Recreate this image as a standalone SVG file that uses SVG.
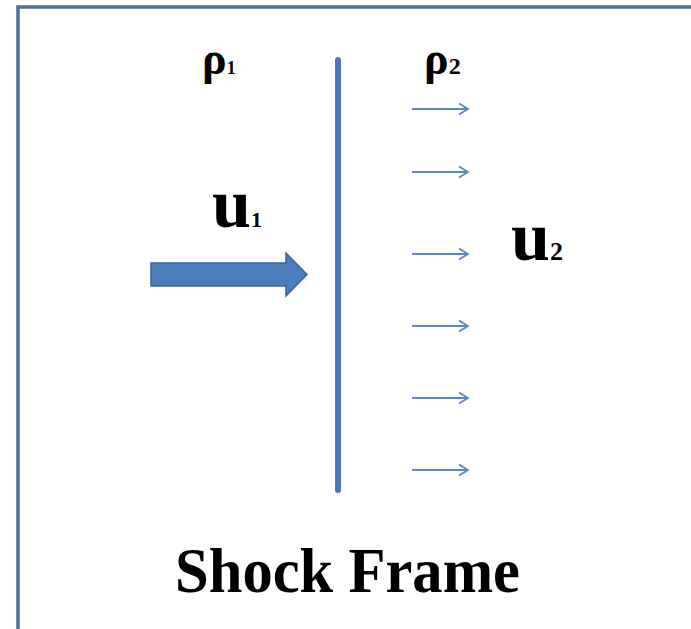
<svg xmlns="http://www.w3.org/2000/svg" width="691" height="629" viewBox="0 0 691 629">
<style>
.t{font-family:"Liberation Serif","Times New Roman",serif;font-weight:bold;fill:#000}
.sm{stroke:#5a88c4;stroke-width:1.8;fill:none}
</style>
<defs>
<marker id="oa" markerWidth="14" markerHeight="14" refX="10" refY="7" orient="auto" markerUnits="userSpaceOnUse">
<path d="M1,1.5 L10,7 L1,12.5" fill="none" stroke="#5a88c4" stroke-width="1.8"/>
</marker>
</defs>
<rect width="691" height="629" fill="#fff"/>
<g id="frame">
<path d="M18,629 L18,7 L691,7" fill="none" stroke="#4e6f9e" stroke-width="3.5"/>
</g>
<g id="shock">
<line x1="338" y1="60" x2="338" y2="490" stroke="#4a76b5" stroke-width="6" stroke-linecap="round"/>
</g>
<g id="labels">
<text class="t" x="202" y="74" font-size="46">ρ<tspan font-size="18">1</tspan></text>
<text class="t" x="424" y="74" font-size="46">ρ<tspan font-size="24">2</tspan></text>
<text class="t" x="212" y="227" font-size="70">u<tspan font-size="22">1</tspan></text>
<text class="t" x="511" y="260" font-size="70">u<tspan font-size="26">2</tspan></text>
<text class="t" x="175" y="592" font-size="64" textLength="345" lengthAdjust="spacingAndGlyphs">Shock Frame</text>
</g>
<g id="connectors">
<path d="M151,263 L286,263 L286,253 L307,274.5 L286,296 L286,286 L151,286 Z" fill="#4a7ebb" stroke="#3d6496" stroke-width="1.5"/>
<line class="sm" x1="412" y1="109" x2="468" y2="109" marker-end="url(#oa)"/>
<line class="sm" x1="412" y1="172" x2="468" y2="172" marker-end="url(#oa)"/>
<line class="sm" x1="412" y1="254" x2="468" y2="254" marker-end="url(#oa)"/>
<line class="sm" x1="412" y1="326" x2="468" y2="326" marker-end="url(#oa)"/>
<line class="sm" x1="412" y1="398" x2="468" y2="398" marker-end="url(#oa)"/>
<line class="sm" x1="412" y1="470" x2="468" y2="470" marker-end="url(#oa)"/>
</g>
</svg>
